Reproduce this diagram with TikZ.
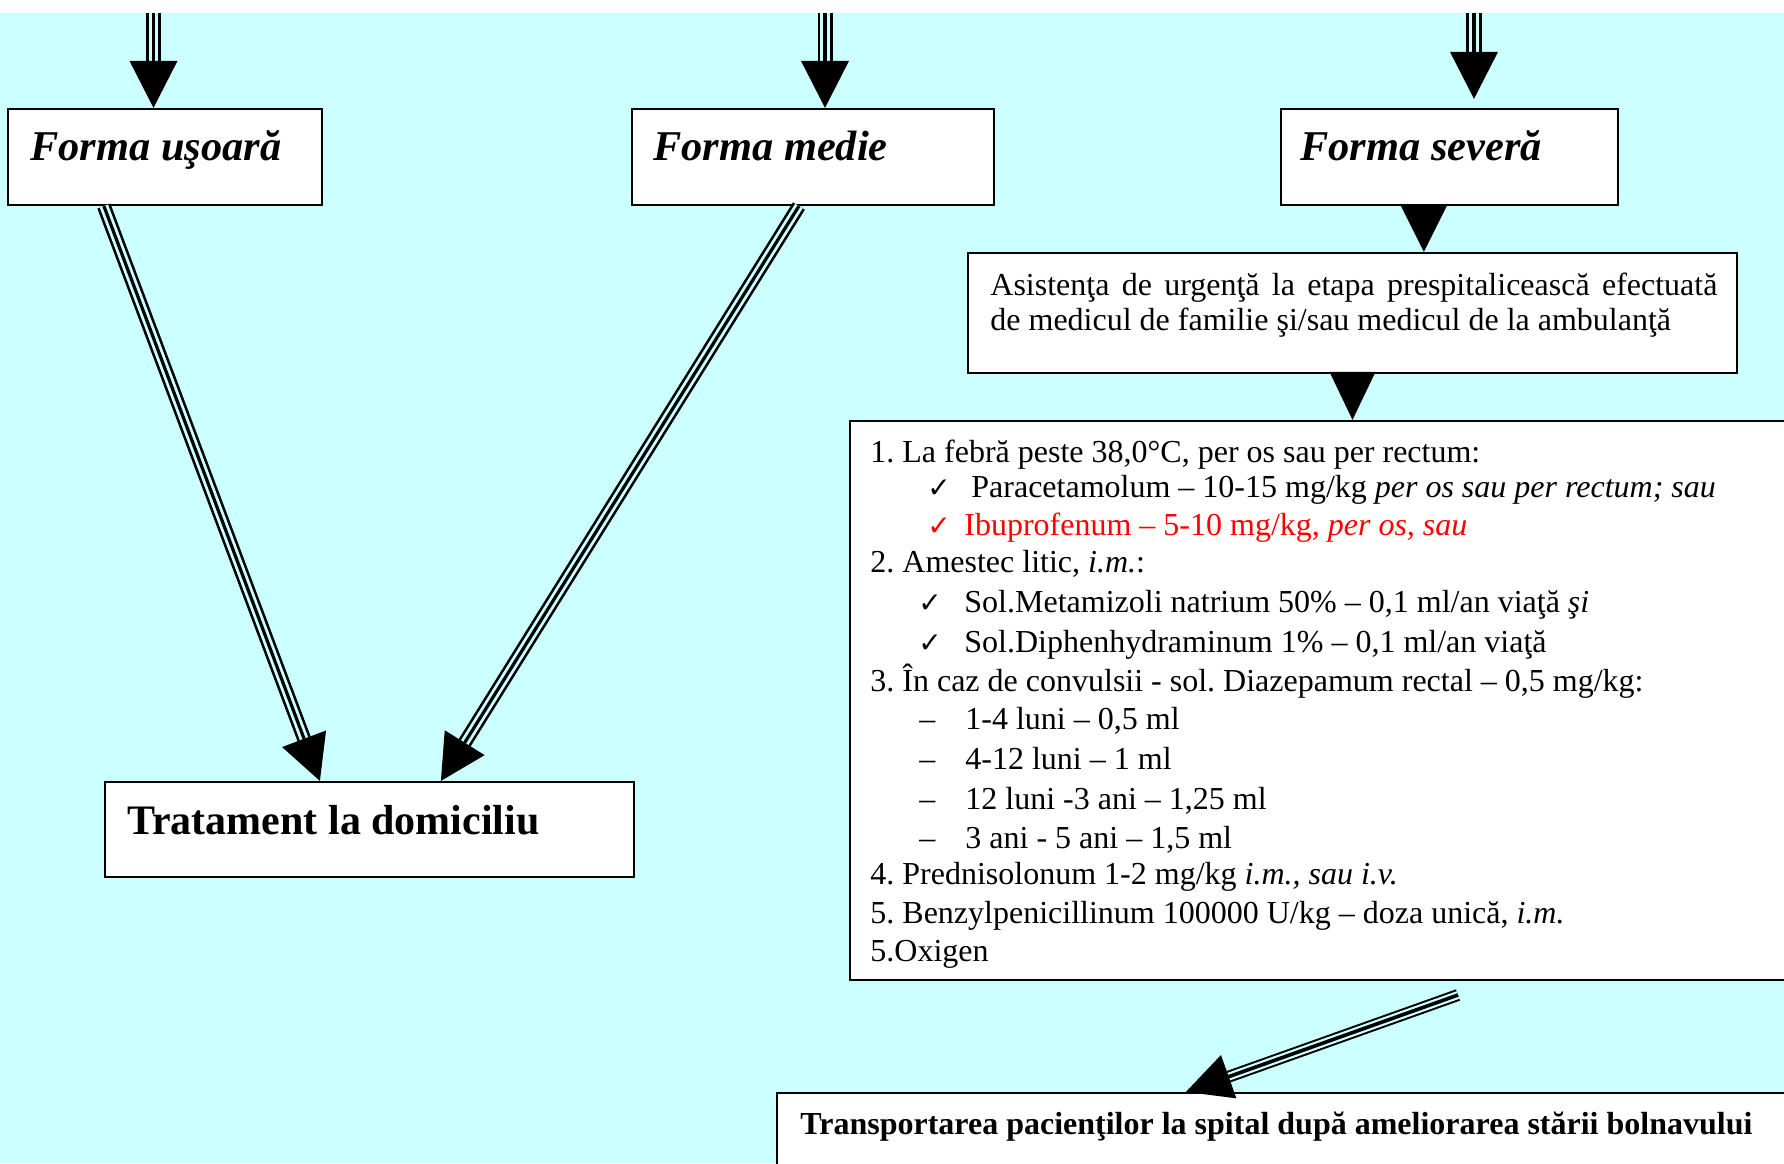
\documentclass[tikz,border=0pt]{standalone}
\usepackage{fontspec}
\setmainfont{Liberation Serif}
\newfontfamily\symf{DejaVu Sans}
\usetikzlibrary{calc,fit}
\definecolor{bgc}{HTML}{CCFFFF}
\definecolor{myred}{HTML}{FF0000}
\frenchspacing
% #1 tail, #2 tip, #3 outer width, #4 gap width, #5 centre width, #6 head length, #7 half head width
\newcommand\tripleconn[7]{%
  \coordinate (hb) at ($(#2)!#6!(#1)$);
  \coordinate (hc1) at ($(hb)!#7!90:(#2)$);
  \coordinate (hc2) at ($(hb)!#7!-90:(#2)$);
  \draw[line width=#3] (#1) -- (hb);
  \draw[line width=#4, draw=bgc] (#1) -- (hb);
  \draw[line width=#5] (#1) -- (hb);
  \fill (#2) -- (hc1) -- (hc2) -- cycle;
}
\newcommand\solidconn[4]{%
  \coordinate (hb) at ($(#2)!#3!(#1)$);
  \fill (#2) -- ($(hb)!#4!90:(#2)$) -- ($(hb)!#4!-90:(#2)$) -- cycle;
}
\begin{document}
\frenchspacing
\begin{tikzpicture}[x=0.5pt, y=-0.5pt,
  box/.style={draw=black, line width=1.1pt, fill=white, inner sep=0pt},
  ttl/.style={anchor=base west, inner sep=0pt, font=\fontsize{21.2}{25}\selectfont\bfseries\itshape},
  ttlb/.style={anchor=base west, inner sep=0pt, font=\fontsize{21}{25}\selectfont\bfseries},
  txt/.style={anchor=base west, inner sep=0pt, font=\fontsize{16}{19}\selectfont\frenchspacing},
  chk/.style={anchor=base west, inner sep=0pt, font=\symf\fontsize{14}{16}\selectfont},
]
\useasboundingbox (0,0) rectangle (1784,1163);
\clip (0,0) rectangle (1784,1163);
\fill[white] (0,0) rectangle (1784,13);
\fill[bgc] (0,13) rectangle (1784,1163);

% boxes
\node[box, fit={(8,109) (322,205)}] (usoara) {};
\node[box, fit={(632,109) (994,205)}] (medie) {};
\node[box, fit={(1281,109) (1618,205)}] (severa) {};
\node[box, fit={(968,253) (1737,373)}] (asis) {};
\node[box, fit={(850,421) (1800,980)}] (lista) {};
\node[box, fit={(105,782) (634,877)}] (trat) {};
\node[box, fit={(777,1093) (1800,1190)}] (transp) {};

% texts
\node[ttl] (tusoara) at (30,160) {Forma uşoară};
\node[ttl] (tmedie) at (653,160) {Forma medie};
\node[ttl] (tsevera) at (1300,160) {Forma severă};
\node[ttlb] (ttrat) at (127,834) {Tratament la domiciliu};
\node[txt] (asis1) at (990,295) {\makebox[363.5pt][s]{Asistenţa de urgenţă la etapa prespitalicească efectuată}};
\node[txt] (asis2) at (990,330) {de medicul de familie şi/sau medicul de la ambulanţă};
\node[txt, font=\fontsize{16}{19}\selectfont\bfseries] (ttransp) at (800,1134) {Transportarea pacienţilor la spital după ameliorarea stării bolnavului};

% list
\node[txt] (l1) at (870,462) {1. La febră peste 38,0°C, per os sau per rectum:};
\node[chk] (c2) at (927,497) {✓};
\node[txt] (l2) at (971,497) {Paracetamolum – 10-15 mg/kg \textit{per os sau per rectum; sau}};
\node[chk, text=myred] (c3) at (927,535) {✓};
\node[txt, text=myred] (l3) at (964,535) {Ibuprofenum – 5-10 mg/kg, \textit{per os, sau}};
\node[txt] (l4) at (870,572) {2. Amestec litic, \textit{i.m.}:};
\node[chk] (c5) at (918,612) {✓};
\node[txt] (l5) at (964,612) {Sol.Metamizoli natrium 50\% – 0,1 ml/an viaţă \textit{şi}};
\node[chk] (c6) at (918,652) {✓};
\node[txt] (l6) at (964,652) {Sol.Diphenhydraminum 1\% – 0,1 ml/an viaţă};
\node[txt] (l7) at (870,691) {3. În caz de convulsii - sol. Diazepamum rectal – 0,5 mg/kg:};
\node[txt] (d8) at (919,729) {–};
\node[txt] (l8) at (965,729) {1-4 luni – 0,5 ml};
\node[txt] (d9) at (919,769) {–};
\node[txt] (l9) at (965,769) {4-12 luni – 1 ml};
\node[txt] (d10) at (919,809) {–};
\node[txt] (l10) at (965,809) {12 luni -3 ani – 1,25 ml};
\node[txt] (d11) at (919,848) {–};
\node[txt] (l11) at (965,848) {3 ani - 5 ani – 1,5 ml};
\node[txt] (l12) at (870,884) {4. Prednisolonum 1-2 mg/kg \textit{i.m., sau i.v.}};
\node[txt] (l13) at (870,923) {5. Benzylpenicillinum 100000 U/kg – doza unică, \textit{i.m.}};
\node[txt] (l14) at (870,961) {5.Oxigen};

% connectors
\coordinate (top1) at (153.5,13);
\coordinate (top2) at (825,13);
\coordinate (top3) at (1474,13);
\coordinate (tip1) at (top1 |- usoara.north);
\coordinate (tip2) at (top2 |- medie.north);
\coordinate (tip3) at ($(top3 |- severa.north)+(0,-9)$);
\tripleconn{top1}{tip1}{7.5pt}{4.6pt}{1.8pt}{23.5pt}{12pt}
\tripleconn{top2}{tip2}{7.5pt}{4.6pt}{1.8pt}{23.5pt}{12pt}
\tripleconn{top3}{tip3}{8pt}{5pt}{2pt}{23.5pt}{12pt}

\coordinate (us) at ([xshift=48.5pt]usoara.south west);
\coordinate (ut) at ([xshift=108pt]trat.north west);
\coordinate (ms) at ([xshift=84pt]medie.south west);
\coordinate (mt) at ([xshift=168.5pt]trat.north west);
\tripleconn{us}{ut}{7pt}{4.4pt}{1.6pt}{22.5pt}{11.75pt}
\tripleconn{ms}{mt}{7pt}{4.4pt}{1.6pt}{22.5pt}{11.75pt}

\coordinate (sv) at ([xshift=72pt]severa.south west);
\coordinate (svt) at (sv |- asis.north);
\solidconn{sv}{svt}{23.5pt}{11.75pt}
\coordinate (as) at (asis.south);
\coordinate (ast) at (as |- lista.north);
\solidconn{as}{ast}{24pt}{11.5pt}

\coordinate (lt) at (1458,995);
\coordinate (trt) at ([xshift=205pt]transp.north west);
\tripleconn{lt}{trt}{6pt}{4pt}{1.8pt}{22.7pt}{11.5pt}
\end{tikzpicture}
\end{document}
